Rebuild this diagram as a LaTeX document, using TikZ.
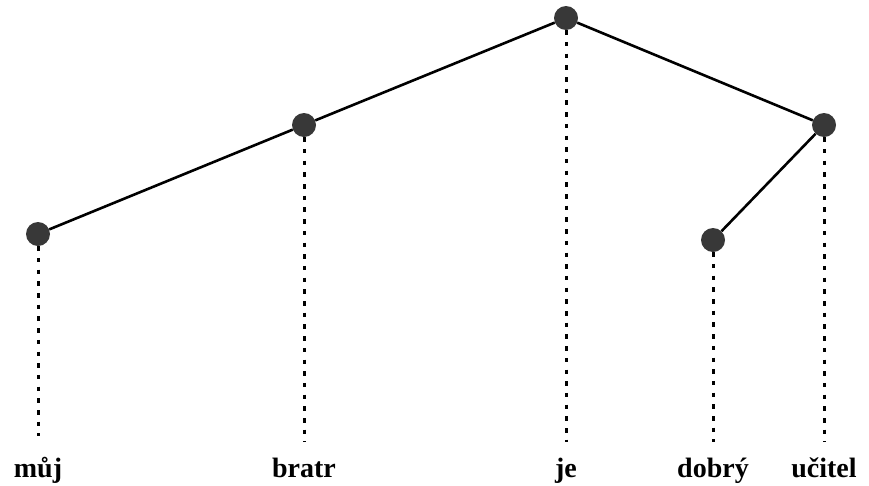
\documentclass[tikz,border=0pt]{standalone}
\usepackage{fontspec}
\setmainfont{Liberation Serif}
\begin{document}
\begin{tikzpicture}[x=1pt,y=-1pt,
  dot/.style={circle,fill=nodegray,minimum size=24pt,inner sep=0pt},
  edge/.style={line width=2.6pt,black},
  proj/.style={line width=3pt,black,dash pattern=on 4.5pt off 7.2pt},
  word/.style={anchor=base,font=\fontsize{28}{30}\selectfont\bfseries,inner sep=0pt}]
\definecolor{nodegray}{HTML}{383838}
\useasboundingbox (0,0) rectangle (869,485);
\node[dot] (je) at (566,18) {};
\node[dot] (bratr) at (304,125) {};
\node[dot] (ucitel) at (824,125) {};
\node[dot] (muj) at (38,234) {};
\node[dot] (dobry) at (713,240) {};
\coordinate (je-e) at (566,442);
\coordinate (bratr-e) at (304,442);
\coordinate (ucitel-e) at (824,442);
\coordinate (muj-e) at (38,436);
\coordinate (dobry-e) at (713,442);
\draw[edge] (je) -- (bratr);
\draw[edge] (je) -- (ucitel);
\draw[edge] (bratr) -- (muj);
\draw[edge] (ucitel) -- (dobry);
\draw[proj] (je.south) -- (je-e);
\draw[proj] (bratr.south) -- (bratr-e);
\draw[proj] (ucitel.south) -- (ucitel-e);
\draw[proj] (muj.south) -- (muj-e);
\draw[proj] (dobry.south) -- (dobry-e);
\node[word] (w1) at (38,477) {můj};
\node[word] (w2) at (304,477) {bratr};
\node[word] (w3) at (566,477) {je};
\node[word] (w4) at (713,477) {dobrý};
\node[word] (w5) at (824,477) {učitel};
\end{tikzpicture}
\end{document}
